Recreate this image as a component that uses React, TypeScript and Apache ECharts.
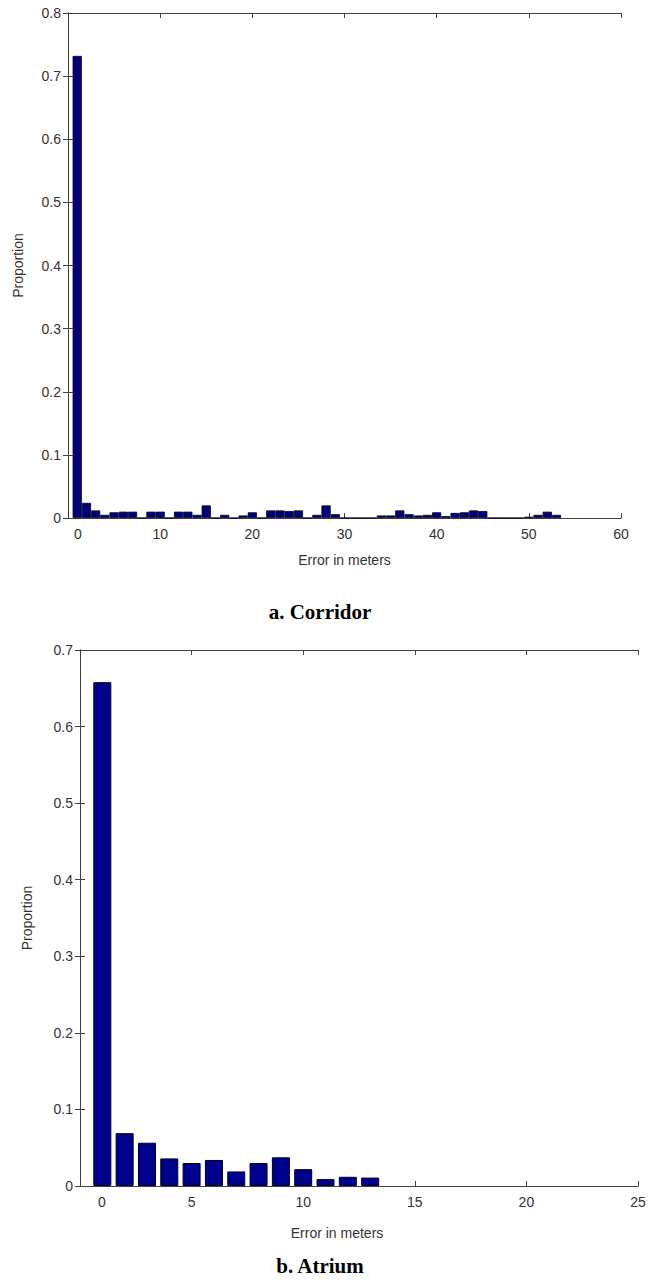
import React, { useEffect, useRef } from "react";
import * as echarts from "echarts";

// Corridor histogram (bin index on axis, label "0" at first bin)
const corridorX = [
  1, 2, 3, 4, 5, 6, 7, 8, 9, 10, 11, 12, 13, 14, 15, 16, 17, 18, 19, 20, 21, 22, 23, 24, 25, 26, 27,
  28, 29, 30, 31, 32, 33, 34, 35, 36, 37, 38, 39, 40, 41, 42, 43, 44, 45, 46, 47, 48, 49, 50, 51, 52, 53,
];
const corridorY = [
  0.732, 0.024, 0.012, 0.005, 0.009, 0.01, 0.01, 0, 0.01, 0.01, 0, 0.01, 0.01, 0.005, 0.02, 0, 0.005, 0,
  0.004, 0.009, 0, 0.012, 0.012, 0.011, 0.012, 0, 0.005, 0.02, 0.006, 0, 0, 0, 0, 0.004, 0.004, 0.012,
  0.006, 0.004, 0.005, 0.009, 0.003, 0.008, 0.009, 0.012, 0.011, 0, 0, 0, 0, 0.002, 0.005, 0.01, 0.005,
];

// Atrium histogram
const atriumX = [1, 2, 3, 4, 5, 6, 7, 8, 9, 10, 11, 12, 13];
const atriumY = [0.658, 0.069, 0.0565, 0.036, 0.03, 0.034, 0.019, 0.03, 0.0375, 0.022, 0.009, 0.012, 0.011];

const corridorTicks = { min: 0, max: 60, interval: 10 };
const atriumTicks = { min: 0, max: 25, interval: 5 };
const corridorYTicks = { min: 0, max: 0.8, interval: 0.1 };
const atriumYTicks = { min: 0, max: 0.7, interval: 0.1 };

const xLabel = "Error in meters";
const yLabel = "Proportion";
const captions = ["a. Corridor", "b. Atrium"];

const FONT = "Liberation Sans";
const LINE = "#404040";
const TXT = "#333333";

export default function App() {
  const ref = useRef<HTMLDivElement>(null);
  useEffect(() => {
    if (!ref.current) return;
    const chart = echarts.init(ref.current, undefined, { renderer: "svg" });

    const mkX = (grid: number, t: any, shift: number, namePad: number[], nameGap: number) => [
      {
        gridIndex: grid,
        type: "value",
        ...t,
        position: "bottom",
        axisLine: { show: true, onZero: false, lineStyle: { color: LINE, width: 1 } },
        axisTick: { show: true, inside: true, length: 5, lineStyle: { color: LINE } },
        splitLine: { show: false },
        axisLabel: {
          margin: 9,
          color: TXT,
          fontSize: 14,
          fontFamily: FONT,
          formatter: (v: number) => (v === 0 ? "{s|0}" : String(v)),
          rich: { s: { padding: [0, 0, 0, shift], fontSize: 14, fontFamily: FONT, color: TXT } },
        },
        name: xLabel,
        nameLocation: "middle",
        nameGap,
        nameTextStyle: { color: TXT, fontSize: 14, fontFamily: FONT, padding: namePad },
      },
      {
        gridIndex: grid,
        type: "value",
        ...t,
        position: "top",
        axisLine: { show: true, onZero: false, lineStyle: { color: LINE, width: 1 } },
        axisTick: { show: true, inside: true, length: 5, lineStyle: { color: LINE } },
        splitLine: { show: false },
        axisLabel: { show: false },
      },
    ];
    const mkY = (grid: number, t: any, nameGap: number) => [
      {
        gridIndex: grid,
        type: "value",
        ...t,
        position: "left",
        axisLine: { show: true, lineStyle: { color: LINE, width: 1 } },
        axisTick: { show: true, inside: true, length: 5, lineStyle: { color: LINE } },
        splitLine: { show: false },
        axisLabel: { margin: 7, color: TXT, fontSize: 14, fontFamily: FONT },
        name: yLabel,
        nameLocation: "middle",
        nameGap,
        nameTextStyle: { color: TXT, fontSize: 14, fontFamily: FONT },
      },
      {
        gridIndex: grid,
        type: "value",
        ...t,
        position: "right",
        axisLine: { show: true, lineStyle: { color: LINE, width: 1 } },
        axisTick: { show: true, inside: true, length: 5, lineStyle: { color: LINE } },
        splitLine: { show: false },
        axisLabel: { show: false },
      },
    ];

    chart.setOption({
      animation: false,
      backgroundColor: "#ffffff",
      grid: [
        { left: 68, top: 13, width: 553, height: 505 },
        { left: 80, top: 650, width: 558, height: 536 },
      ],
      xAxis: [
        ...mkX(0, corridorTicks, 20, [0, 0, 0, 0], 35),
        ...mkX(1, atriumTicks, 44, [0, 44, 0, 0], 40),
      ],
      yAxis: [...mkY(0, corridorYTicks, 43), ...mkY(1, atriumYTicks, 46)],
      series: [
        {
          type: "bar",
          xAxisIndex: 0,
          yAxisIndex: 0,
          barWidth: 9.2,
          data: corridorX.map((x, i) => [x, corridorY[i]]),
          itemStyle: { color: "#00007a", borderColor: "#000022", borderWidth: 0.8 },
        },
        {
          type: "bar",
          xAxisIndex: 2,
          yAxisIndex: 2,
          barWidth: 18,
          data: atriumX.map((x, i) => [x, atriumY[i]]),
          itemStyle: { color: "#00008f", borderColor: "#000022", borderWidth: 1 },
        },
      ],
      graphic: [
        {
          type: "text",
          x: 320,
          y: 612,
          style: {
            text: captions[0],
            font: 'bold 21px "Liberation Serif"',
            fill: "#000",
            align: "center",
            verticalAlign: "middle",
          },
        },
        {
          type: "text",
          x: 320,
          y: 1266,
          style: {
            text: captions[1],
            font: 'bold 21px "Liberation Serif"',
            fill: "#000",
            align: "center",
            verticalAlign: "middle",
          },
        },
      ],
    });
    return () => chart.dispose();
  }, []);
  return (
    <div
      ref={ref}
      style={{ position: "absolute", left: 0, top: 0, width: 650, height: 1285, background: "#fff" }}
    />
  );
}
